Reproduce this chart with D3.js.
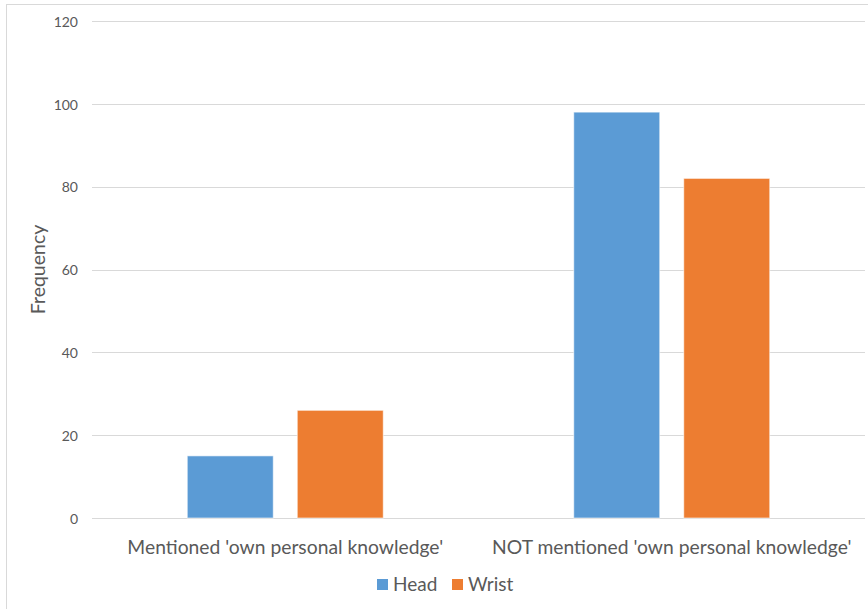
<!DOCTYPE html>
<html>
<head>
<meta charset="utf-8">
<script src="https://cdn.jsdelivr.net/npm/d3@7"></script>
<style>
  html, body { margin: 0; padding: 0; background: #fff; }
  svg { display: block; }
</style>
</head>
<body>
<svg id="chart" width="868" height="609"></svg>
<script>
// Responses grouped by whether they mentioned 'own personal knowledge'
const categories = ["Mentioned 'own personal knowledge'", "NOT mentioned 'own personal knowledge'"];
const seriesNames = ["Head", "Wrist"];
const headValues = [15, 98];
const wristValues = [26, 82];
const yTicks = [0, 20, 40, 60, 80, 100, 120];
const colors = ["#5B9BD5", "#ED7D31"];

const svg = d3.select("#chart");
const W = 868, H = 609;
const font = "Lato, 'Open Sans', sans-serif";
const textColor = "#595959";

// Chart frame
svg.append("rect")
  .attr("x", 6.5).attr("y", 4.5)
  .attr("width", W + 10).attr("height", H + 10)
  .attr("fill", "#fff").attr("stroke", "#D9D9D9").attr("stroke-width", 1);

const plot = { left: 92, right: 865, top: 21, bottom: 518 };

const x0 = d3.scaleBand()
  .domain(categories)
  .range([plot.left, plot.right])
  .paddingInner(0).paddingOuter(0);

const y = d3.scaleLinear().domain([0, 120]).range([plot.bottom, plot.top]);

// Group layout: two bars with a gap between them
const barW = 86, barGap = 24;
const x1 = d3.scaleOrdinal().domain(seriesNames)
  .range([-(barW + barGap / 2), barGap / 2]);

// Gridlines
svg.append("g")
  .selectAll("line")
  .data(yTicks)
  .join("line")
  .attr("x1", plot.left).attr("x2", plot.right)
  .attr("y1", d => Math.round(y(d)) + 0.5).attr("y2", d => Math.round(y(d)) + 0.5)
  .attr("stroke", "#D9D9D9").attr("stroke-width", 1);

// Y axis tick labels
const yAxis = d3.axisLeft(y).tickValues(yTicks).tickSize(0).tickPadding(0);
const gy = svg.append("g").attr("transform", `translate(${plot.left - 14},0)`).call(yAxis);
gy.select(".domain").remove();
gy.selectAll("text")
  .attr("font-family", font).attr("font-size", 14).attr("fill", textColor)
  .attr("dy", "0.38em");

// Y axis title
svg.append("text")
  .attr("transform", `translate(45,${(plot.top + plot.bottom) / 2}) rotate(-90)`)
  .attr("text-anchor", "middle")
  .attr("font-family", font).attr("font-size", 19.5).attr("fill", textColor)
  .text("Frequency");

// Bars
const data = categories.map((c, i) => ({ cat: c, values: [headValues[i], wristValues[i]] }));
const groups = svg.append("g").selectAll("g")
  .data(data).join("g")
  .attr("transform", d => `translate(${x0(d.cat) + x0.bandwidth() / 2},0)`);

groups.selectAll("rect")
  .data(d => d.values.map((v, j) => ({ name: seriesNames[j], value: v, color: colors[j] })))
  .join("rect")
  .attr("x", d => x1(d.name))
  .attr("width", barW)
  .attr("y", d => y(d.value))
  .attr("height", d => y(0) - y(d.value))
  .attr("fill", d => d.color)
  .attr("stroke", "#ffffff").attr("stroke-opacity", 0.6).attr("stroke-width", 1);

// Category labels
const xAxis = d3.axisBottom(x0).tickSize(0).tickPadding(0);
const gx = svg.append("g").attr("transform", `translate(0,${plot.bottom})`).call(xAxis);
gx.select(".domain").remove();
gx.selectAll("text")
  .attr("font-family", font).attr("font-size", 19.3).attr("fill", textColor)
  .attr("y", 36).attr("dy", "0");

// Legend
const legend = svg.append("g").attr("transform", "translate(0,584)");
const legendItems = [
  { name: seriesNames[0], color: colors[0], x: 377 },
  { name: seriesNames[1], color: colors[1], x: 452 }
];
const li = legend.selectAll("g").data(legendItems).join("g")
  .attr("transform", d => `translate(${d.x},0)`);
li.append("rect").attr("x", 0).attr("y", -5).attr("width", 11).attr("height", 11)
  .attr("fill", d => d.color);
li.append("text").attr("x", 16).attr("y", 7)
  .attr("font-family", font).attr("font-size", 19).attr("fill", textColor)
  .text(d => d.name);
</script>
</body>
</html>
